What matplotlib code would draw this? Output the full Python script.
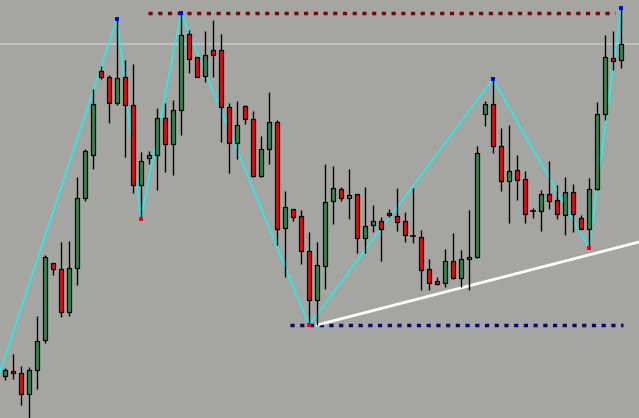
import matplotlib
matplotlib.use("Agg")
import matplotlib.pyplot as plt
from matplotlib.patches import Rectangle

# Candles: prices expressed in chart units (higher = up)
BASE = 418
opens_px = [376,371,373,394,370,340,263,269,312,268,198,155,71,77,103,77,105,185,158,155,
            118,144,110,34,57,76,50,50,107,143,106,119,176,149,122,228,209,216,251,300,
            266,201,189,198,194,238,225,221,213,216,221,236,237,269,281,283,261,278,259,257,
            114,104,146,181,170,179,211,211,194,200,215,192,218,229,189,114,58,60]
closes_px = [370,373,394,370,341,257,269,312,268,198,151,104,77,103,78,105,185,161,155,118,
             144,110,35,59,77,55,55,107,143,125,119,176,149,122,229,207,217,251,300,265,
             202,188,198,195,238,226,221,229,215,222,235,236,270,283,284,261,278,259,257,153,
             104,146,181,171,180,214,211,194,201,214,192,214,229,189,114,57,61,44]
highs_px = [368,354,366,367,316,255,263,242,241,177,149,89,66,75,19,60,64,152,151,108,
            103,100,13,30,57,31,20,34,103,101,105,111,136,92,120,191,209,210,232,242,
            164,166,187,169,194,187,205,217,209,188,212,188,230,259,277,249,233,250,210,146,
            101,79,128,125,155,171,208,190,161,185,177,184,215,178,102,35,31,7]
lows_px = [380,379,405,418,389,343,275,317,316,285,201,169,79,123,105,157,193,219,164,190,
           172,175,135,73,77,82,77,142,173,159,124,177,177,164,245,277,221,264,325,325,
           289,224,201,219,253,253,232,261,217,231,242,243,290,290,285,287,279,287,290,258,
           126,153,191,223,200,223,218,231,209,219,235,232,229,248,190,120,70,68]

opens = [BASE - v for v in opens_px]
closes = [BASE - v for v in closes_px]
highs = [BASE - v for v in highs_px]
lows = [BASE - v for v in lows_px]

# ZigZag pivots (candle index, price)
zz_idx = [-1, 14, 17, 22, 38, 61, 73, 77]
zz_val = [BASE - v for v in [381, 19, 219, 13, 325, 79, 248, 8]]
zz_high_idx = [14, 22, 61, 77]
zz_low_idx = [17, 38, 73]

# Levels
resist_level = BASE - 13
resist_span = (17.9, 76.3)
support_level = BASE - 325
support_span = (35.6, 77.2)
hline_level = BASE - 44
trend_idx = [39, 79.25]
trend_val = [BASE - 325, BASE - 242]

W, H = 639, 418
fig = plt.figure(figsize=(W / 100, H / 100), dpi=100)
ax = fig.add_axes([0, 0, 1, 1])
bg = "#a5a6a2"
fig.patch.set_facecolor(bg)
ax.set_facecolor(bg)
ax.set_xlim(-0.625, 79.25)
ax.set_ylim(0, 418)
ax.axis("off")

ax.axhline(hline_level, color="#cfc3cc", lw=1.2, zorder=1)

# zigzag
ax.plot(zz_idx, zz_val, color="#00ffff", lw=1.0, zorder=2)

green = "#2f8a45"
red = "#ff0000"
bw = 0.62
for i in range(len(opens)):
    o, c, h, l = opens[i], closes[i], highs[i], lows[i]
    ax.plot([i, i], [l, h], color="black", lw=1.0, zorder=3, solid_capstyle="butt")
    col = green if c >= o else red
    bottom = min(o, c)
    height = abs(c - o)
    if height < 1:
        ax.plot([i - bw / 2, i + bw / 2], [o, o], color="black", lw=1.2, zorder=4)
    else:
        ax.add_patch(Rectangle((i - bw / 2, bottom), bw, height, facecolor=col,
                               edgecolor="black", lw=0.9, zorder=4))

# pivot dots
ax.scatter(zz_high_idx, [zz_val[zz_idx.index(k)] for k in zz_high_idx], s=6, marker="s",
           color="#0000ff", zorder=5, linewidths=0)
ax.scatter(zz_low_idx, [zz_val[zz_idx.index(k)] for k in zz_low_idx], s=6, marker="s",
           color="#ff0000", zorder=5, linewidths=0)

# dotted levels
ax.plot(resist_span, [resist_level, resist_level], color="#800000", lw=2.5,
        linestyle=(0, (1.2, 1.6)), zorder=2)
ax.plot(support_span, [support_level, support_level], color="#000080", lw=2.5,
        linestyle=(0, (1.2, 1.6)), zorder=2)

# trend line
ax.plot(trend_idx, trend_val, color="white", lw=2.0, zorder=2)

fig.savefig("out.png", dpi=100, facecolor=bg)
